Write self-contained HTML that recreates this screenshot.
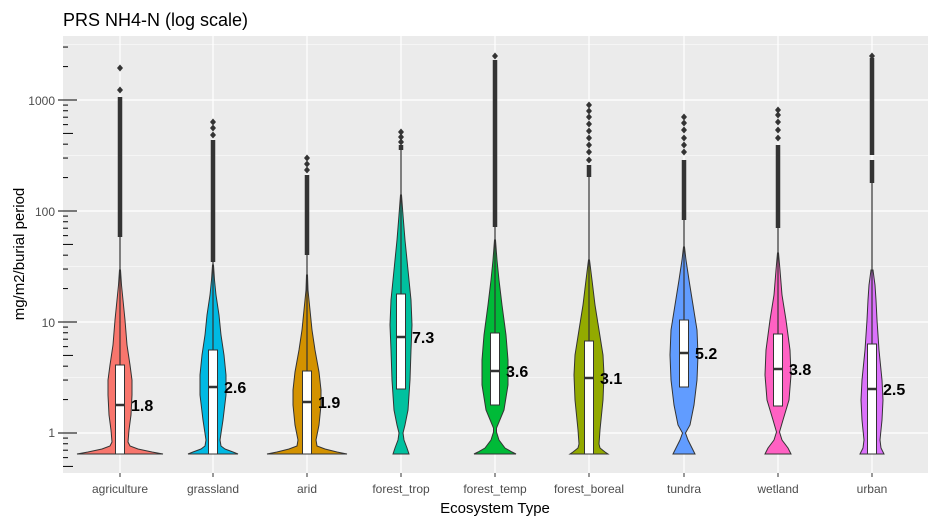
<!DOCTYPE html>
<html><head><meta charset="utf-8"><style>
html,body{margin:0;padding:0;background:#fff;width:937px;height:524px;overflow:hidden}
svg{display:block;font-family:"Liberation Sans",sans-serif}
</style></head><body>
<svg id="s" width="937" height="524" viewBox="0 0 937 524" xmlns="http://www.w3.org/2000/svg">
<rect x="0" y="0" width="937" height="524" fill="#fff"/>
<rect x="63" y="36" width="865" height="437" fill="#ebebeb"/>
<g id="grid"></g>
<g id="vio"></g>
<g id="ticks"></g>
<text x="63" y="26" font-size="18" fill="#000">PRS NH4-N (log scale)</text>
<g font-size="12" fill="#4d4d4d" text-anchor="end">
<text x="55" y="105">1000</text>
<text x="55" y="216">100</text>
<text x="55" y="327">10</text>
<text x="55" y="437">1</text>
</g>
<g font-size="12" fill="#4d4d4d" text-anchor="middle" id="xl"></g>
<text x="495" y="513" font-size="15" text-anchor="middle" fill="#000">Ecosystem Type</text>
<text transform="translate(24,254) rotate(-90)" font-size="15" text-anchor="middle" fill="#000">mg/m2/burial period</text>
</svg>
<script>
var NS="http://www.w3.org/2000/svg";
function el(p,t,a){var e=document.createElementNS(NS,t);for(var k in a)e.setAttribute(k,a[k]);p.appendChild(e);return e;}
function Y(v){return 433-111*Math.log10(v);}
var g=document.getElementById('grid'),vg=document.getElementById('vio'),tk=document.getElementById('ticks'),xl=document.getElementById('xl');
[3.162,31.62,316.2,3162].forEach(function(v){el(g,'line',{x1:63,x2:928,y1:Y(v),y2:Y(v),stroke:'#fff','stroke-width':0.6});});
[1,10,100,1000].forEach(function(v){el(g,'line',{x1:63,x2:928,y1:Y(v),y2:Y(v),stroke:'#fff','stroke-width':1.2});});
var D=[
{n:'agriculture',c:'#F8766D',cx:120,p:[[454,43],[452,32],[449,18],[446,10],[442,8],[430,9],[415,11],[395,12],[380,12],[365,10],[345,7],[320,5],[300,3],[285,1.5],[270,0.5]],b:[365,454],m:405,l:'1.8',w:237,o:[[237,97]],d:[90,68]},
{n:'grassland',c:'#00B9E3',cx:213,p:[[454,25],[452,20],[449,12],[446,8],[440,7],[420,10],[395,13],[375,13],[355,11],[335,8],[315,6],[295,3],[280,1.5],[265,0.5]],b:[350,454],m:387,l:'2.6',w:262,o:[[262,140]],d:[135,128,122]},
{n:'arid',c:'#D39200',cx:307,p:[[454,40],[452,30],[449,18],[446,10],[440,9],[425,12],[405,14],[390,14],[372,12],[350,8],[330,5],[310,3],[290,1],[275,0.5]],b:[371,454],m:402,l:'1.9',w:255,o:[[255,175]],d:[170,164,158]},
{n:'forest_trop',c:'#00C19F',cx:401,p:[[454,8],[448,6],[440,3],[433,2],[425,4],[410,7],[380,9],[350,10],[325,11],[300,10],[270,7],[240,4],[215,2],[195,0.5]],b:[294,389],m:337,l:'7.3',w:150,o:[[150,145]],d:[142,137,132]},
{n:'forest_temp',c:'#00BA38',cx:495,p:[[454,21],[452,17],[448,10],[440,4],[432,1.5],[428,1.5],[410,9],[385,13],[360,13],[335,11],[305,7],[280,4],[260,2],[240,0.5]],b:[333,405],m:371,l:'3.6',w:227,o:[[227,60]],d:[56]},
{n:'forest_boreal',c:'#93AA00',cx:589,p:[[454,19],[452,16],[448,11],[444,10],[430,11],[400,14],[375,15],[355,14],[330,10],[305,6],[280,3],[260,0.5]],b:[341,454],m:378,l:'3.1',w:177,o:[[177,165]],d:[160,152,145,138,131,124,117,111,105]},
{n:'tundra',c:'#619CFF',cx:684,p:[[454,11],[448,8],[440,4],[433,1.5],[425,6],[405,10],[380,13],[355,14],[330,13],[305,9],[280,5],[260,2],[247,0.5]],b:[320,387],m:353,l:'5.2',w:220,o:[[220,160]],d:[152,145,138,130,123,117]},
{n:'wetland',c:'#FF61C3',cx:778,p:[[454,13],[448,10],[440,4],[432,1.5],[420,5],[400,11],[375,13],[350,12],[320,8],[295,4],[270,2],[253,0.5]],b:[334,406],m:369,l:'3.8',w:228,o:[[228,145]],d:[138,130,122,115,110]},
{n:'urban',c:'#DB72FB',cx:872,p:[[454,12],[448,9],[440,8],[420,10],[400,11],[380,10],[350,7],[320,5],[300,4],[285,3],[270,1]],b:[344,454],m:389,l:'2.5',w:183,o:[[183,160],[155,58]],d:[56]}
];
D.forEach(function(s){
 el(g,'line',{x1:s.cx,x2:s.cx,y1:36,y2:473,stroke:'#fff','stroke-width':1.2});
 var L=[],R=[];
 s.p.forEach(function(q){L.push((s.cx-q[1])+','+q[0]);R.unshift((s.cx+q[1])+','+q[0]);});
 el(vg,'polygon',{points:L.concat(R).join(' '),fill:s.c,stroke:'#333','stroke-width':1});
 el(vg,'line',{x1:s.cx,x2:s.cx,y1:s.b[0],y2:s.w,stroke:'#333','stroke-width':1.2});
 s.o.forEach(function(r){el(vg,'line',{x1:s.cx,x2:s.cx,y1:r[0],y2:r[1],stroke:'#333','stroke-width':4.5});});
 s.d.forEach(function(y){el(vg,'polygon',{points:(s.cx)+','+(y-3.5)+' '+(s.cx+3)+','+y+' '+s.cx+','+(y+3.5)+' '+(s.cx-3)+','+y,fill:'#333'});});
 el(vg,'rect',{x:s.cx-4.5,y:s.b[0],width:9,height:s.b[1]-s.b[0],fill:'#fff',stroke:'#333','stroke-width':1});
 el(vg,'line',{x1:s.cx-4.5,x2:s.cx+4.5,y1:s.m,y2:s.m,stroke:'#333','stroke-width':2.5});
 var t=el(vg,'text',{x:s.cx+11,y:s.m+6,'font-size':16,'font-weight':'bold',fill:'#000'});t.textContent=s.l;
 el(tk,'line',{x1:s.cx,x2:s.cx,y1:473,y2:477,stroke:'#333','stroke-width':1});
 var xt=el(xl,'text',{x:s.cx,y:493});xt.textContent=s.n;
});
for(var e=-1;e<=3;e++){for(var k=1;k<=9;k++){var v=k*Math.pow(10,e);if(v<0.5||v>3000)continue;var y=Y(v);
 if(k==1)el(tk,'line',{x1:58,x2:77,y1:y,y2:y,stroke:'#000','stroke-width':1});
 else if(k==5)el(tk,'line',{x1:63,x2:73,y1:y,y2:y,stroke:'#000','stroke-width':1});
 else el(tk,'line',{x1:63,x2:68,y1:y,y2:y,stroke:'#000','stroke-width':1});}}
</script>
</body></html>
